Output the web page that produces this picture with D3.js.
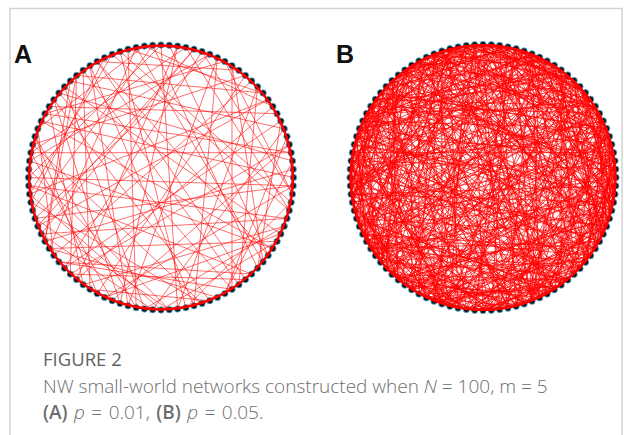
<!DOCTYPE html>
<html>
<head>
<meta charset="utf-8">
<script src="https://cdn.jsdelivr.net/npm/d3@7"></script>
<style>
  html, body { margin: 0; padding: 0; background: #fff; }
  svg { display: block; }
</style>
</head>
<body>
<svg id="fig" width="624" height="435"></svg>
<script>
// Network size and lattice neighbourhood (each node joined to its m nearest neighbours per side)
const nodeCount = 100;
const ringOffsets = [1, 2, 3, 4, 5];

// Panel labels and caption text
const panelLabels = ["A", "B"];
const captionTitle = "FIGURE 2";

// Shortcut edges, flat list of node-index pairs — panel A (p = 0.01)
const shortcutsA = [
  3,47, 7,62, 12,85, 15,33, 18,71, 21,56, 24,90, 27,44, 30,78, 2,39,
  35,66, 38,93, 41,8, 45,72, 48,19, 51,87, 54,26, 57,95, 60,13, 63,36,
  66,81, 69,4, 72,29, 75,52, 78,97, 81,40, 84,16, 87,61, 90,33, 93,68,
  96,22, 99,50, 1,58, 5,83, 9,27, 14,67, 17,42, 20,98, 23,64, 26,88,
  29,11, 32,53, 34,79, 37,6, 40,70, 43,91, 46,14, 49,76, 52,31, 55,99,
  58,37, 61,84, 64,9, 67,45, 70,23, 73,94, 76,55, 79,18, 82,59, 85,35,
  88,7, 91,48, 94,65, 97,30, 0,43, 6,74, 10,52, 16,89, 22,47, 25,77,
  28,59, 31,96, 36,58, 39,84, 42,3, 47,69, 50,25, 53,80, 56,10, 59,92,
  62,20, 65,41, 68,99, 71,34, 74,57, 77,12, 80,46, 83,2, 86,63, 89,28,
  92,75, 95,51, 98,17, 4,63, 11,36, 19,55, 33,86, 44,60, 57,21, 73,38
];

// Shortcut edges — panel B (p = 0.05)
const shortcutsB = [
  0,37, 0,71, 1,24, 1,66, 2,53, 2,88, 3,19, 3,45, 4,77, 4,92, 5,31, 5,60, 6,14, 6,83, 7,49, 7,95, 8,26, 8,70, 9,58, 9,81,
  10,33, 10,64, 11,47, 11,90, 12,29, 12,75, 13,56, 13,98, 14,40, 14,69, 15,22, 15,87, 16,51, 16,79, 17,34, 17,62, 18,93, 18,45, 19,68, 19,8,
  20,41, 20,85, 21,59, 21,3, 22,74, 22,97, 23,48, 23,11, 24,66, 24,90, 25,38, 25,77, 26,52, 26,99, 27,13, 27,71, 28,46, 28,84, 29,61, 29,5,
  30,57, 30,92, 31,15, 31,73, 32,49, 32,88, 33,2, 33,67, 34,80, 34,53, 35,21, 35,96, 36,62, 36,9, 37,84, 37,55, 38,17, 38,70, 39,93, 39,58,
  40,12, 40,76, 41,63, 41,97, 42,28, 42,85, 43,6, 43,70, 44,91, 44,19, 45,58, 45,82, 46,33, 46,99, 47,14, 47,75, 48,61, 48,89, 49,24, 49,80,
  50,7, 50,72, 51,36, 51,94, 52,18, 52,83, 53,67, 53,4, 54,29, 54,88, 55,10, 55,76, 56,42, 56,97, 57,23, 57,86, 58,1, 58,71, 59,34, 59,92,
  60,15, 60,81, 61,44, 61,98, 62,27, 62,89, 63,9, 63,74, 64,37, 64,95, 65,20, 65,83, 66,48, 66,2, 67,31, 67,90, 68,12, 68,79, 69,53, 69,97,
  70,26, 70,88, 71,45, 71,6, 72,33, 72,94, 73,17, 73,56, 74,3, 74,85, 75,41, 75,99, 76,22, 76,63, 77,8, 77,50, 78,35, 78,92, 79,14, 79,60,
  80,28, 80,97, 81,47, 81,3, 82,19, 82,64, 83,39, 83,7, 84,55, 84,11, 85,30, 85,68, 86,4, 86,49, 87,24, 87,61, 88,16, 88,43, 89,36, 89,73,
  90,2, 90,57, 91,25, 91,66, 92,13, 92,48, 93,31, 93,70, 94,9, 94,52, 95,27, 95,64, 96,18, 96,44, 97,35, 97,6, 98,21, 98,59, 99,40, 99,12,
  0,55, 1,83, 2,40, 3,62, 4,28, 5,95, 6,51, 7,33, 8,87, 9,42, 10,79, 11,24, 12,58, 13,91, 14,36, 15,67, 16,4, 17,89, 18,57, 19,30,
  20,63, 21,94, 22,8, 23,79, 24,43, 25,12, 26,69, 27,95, 28,1, 29,82, 30,44, 31,58, 32,10, 33,85, 34,97, 35,62, 36,78, 37,3, 38,51, 39,22,
  40,88, 41,15, 42,60, 43,97, 44,2, 45,71, 46,18, 47,86, 48,30, 49,64, 50,95, 51,19, 52,66, 53,38, 54,9, 55,84, 56,27, 57,73, 58,45, 59,14,
  60,99, 61,29, 62,5, 63,50, 64,86, 65,37, 66,11, 67,84, 68,41, 69,2, 70,55, 71,18, 72,62, 73,95, 74,39, 75,7, 76,90, 77,31, 78,54, 79,85,
  80,10, 81,65, 82,40, 83,22, 84,96, 85,1, 86,58, 87,34, 88,75, 89,5, 90,27, 91,49, 92,71, 93,16, 94,38, 95,80, 96,59, 97,23, 98,46, 99,82,
  0,20, 1,48, 2,74, 3,99, 4,56, 5,13, 6,39, 7,68, 8,94, 9,31, 10,50, 11,76, 12,97, 13,44, 14,63, 15,89, 16,28, 17,52, 18,81, 19,43,
  20,7, 21,36, 22,52, 23,88, 24,15, 25,54, 26,81, 27,37, 28,63, 29,96, 30,70, 31,4, 32,61, 33,93, 34,18, 35,49, 36,87, 37,26, 38,64, 39,6,
  40,53, 41,82, 42,14, 43,33, 44,68, 45,96, 46,72, 47,3, 48,80, 49,17, 50,39, 51,75, 52,99, 53,28, 54,61, 55,41, 56,8, 57,91, 58,35, 59,77,
  60,32, 61,6, 62,44, 63,86, 64,21, 65,52, 66,94, 67,17, 68,47, 69,85, 70,9, 71,35, 72,81, 73,43, 74,62, 75,26, 76,1, 77,58, 78,19, 79,97,
  80,52, 81,25, 82,6, 83,57, 84,33, 85,15, 86,69, 87,44, 88,2, 89,58, 90,38, 91,8, 92,30, 93,55, 94,23, 95,45, 96,71, 97,11, 98,33, 99,64,
  0,88, 1,9, 2,29, 3,77, 4,43, 5,70, 6,24, 7,58, 8,41, 9,73, 10,21, 11,59, 12,44, 13,81, 14,27, 15,51, 16,93, 17,77, 18,32, 19,56,
  20,96, 21,72, 22,39, 23,61, 24,82, 25,4, 26,44, 27,83, 28,56, 29,72, 30,13, 31,88, 32,76, 33,51, 34,7, 35,84, 36,53, 37,68, 38,1, 39,79,
  40,9, 41,70, 42,93, 43,19, 44,80, 45,27, 46,61, 47,92, 48,5, 49,34, 50,86, 51,12, 52,41, 53,90, 54,76, 55,23, 56,65, 57,3, 58,84, 59,48,
  60,6, 61,36, 62,79, 63,17, 64,48, 65,96, 66,29, 67,5, 68,90, 69,25, 70,42, 71,98, 72,14, 73,66, 74,21, 75,87, 76,49, 77,96, 78,26, 79,41,
  80,63, 81,14, 82,51, 83,30, 84,7, 85,45, 86,25, 87,92, 88,59, 89,20, 90,46, 91,1, 92,61, 93,8, 94,73, 95,34, 96,11, 97,52, 98,69, 99,27,
  0,64, 1,39, 2,17, 3,91, 4,66, 5,41, 6,89, 7,24, 8,55, 9,99, 10,44, 11,68, 12,34, 13,70, 14,91, 15,43, 16,65, 17,98, 18,60, 19,87,
  20,52, 21,81, 22,63, 23,35, 24,57, 25,93, 26,13, 27,61, 28,90, 29,45, 30,81, 31,69, 32,94, 33,24, 34,66, 35,9, 36,99, 37,77, 38,84, 39,47
];

const svg = d3.select("#fig");

// Card frame
svg.append("rect")
  .attr("x", 10).attr("y", 8.5)
  .attr("width", 612).attr("height", 440)
  .attr("fill", "none")
  .attr("stroke", "#d2d2d2")
  .attr("stroke-width", 1.5);

// Node angle scale: index -> angle around the circle
const angle = d3.scaleLinear().domain([0, nodeCount]).range([0, 2 * Math.PI]);

function buildEdges(flat) {
  const edges = [];
  // regular ring lattice
  for (let i = 0; i < nodeCount; i++) {
    ringOffsets.forEach(k => edges.push([i, (i + k) % nodeCount]));
  }
  // added shortcuts
  for (let j = 0; j < flat.length; j += 2) edges.push([flat[j], flat[j + 1]]);
  return edges;
}

const panels = [
  { label: panelLabels[0], cx: 161, cy: 177.5, r: 132.5, shortcuts: shortcutsA, lx: 14, ly: 63, op: 0.6 },
  { label: panelLabels[1], cx: 483, cy: 177.5, r: 133, shortcuts: shortcutsB, lx: 336, ly: 63, op: 0.75 }
];

panels.forEach(p => {
  const g = svg.append("g");
  const nodes = d3.range(nodeCount).map(i => ({
    i,
    x: p.cx + p.r * Math.cos(angle(i)),
    y: p.cy - p.r * Math.sin(angle(i))
  }));
  const edges = buildEdges(p.shortcuts);

  // nodes
  g.append("g").selectAll("circle")
    .data(nodes)
    .join("circle")
    .attr("cx", d => d.x).attr("cy", d => d.y)
    .attr("r", 3.2)
    .attr("fill", "#0d1a22")
    .attr("stroke", "#5ab4d6")
    .attr("stroke-width", 0.8);

  // edges
  g.append("g").selectAll("line")
    .data(edges)
    .join("line")
    .attr("x1", d => nodes[d[0]].x).attr("y1", d => nodes[d[0]].y)
    .attr("x2", d => nodes[d[1]].x).attr("y2", d => nodes[d[1]].y)
    .attr("stroke", "#ff0000")
    .attr("stroke-opacity", p.op)
    .attr("stroke-width", 0.95);

  // panel label
  svg.append("text")
    .attr("x", p.lx).attr("y", p.ly)
    .attr("font-family", "Liberation Sans, Arial, sans-serif")
    .attr("font-weight", "bold")
    .attr("font-size", 25)
    .attr("fill", "#111")
    .text(p.label);
});

// Caption
const cap = svg.append("g")
  .attr("font-family", "'Open Sans', 'Noto Sans', sans-serif")
  .attr("fill", "#6e6e6e");

cap.append("text")
  .attr("x", 43).attr("y", 366)
  .attr("font-size", 18.5)
  .attr("font-weight", 500)
  .attr("fill", "#626262")
  .text(captionTitle);

const line2 = cap.append("text")
  .attr("x", 43).attr("y", 393)
  .attr("font-size", 19)
  .attr("font-weight", 300);
line2.append("tspan").text("NW small-world networks constructed when ");
line2.append("tspan").attr("font-style", "italic").text("N");
line2.append("tspan").text(" = 100, m = 5");

const line3 = cap.append("text")
  .attr("x", 43).attr("y", 419)
  .attr("font-size", 19)
  .attr("font-weight", 300)
  .attr("word-spacing", 1.5);
line3.append("tspan").attr("font-weight", 600).text("(A)");
line3.append("tspan").text(" ");
line3.append("tspan").attr("font-style", "italic").text("p");
line3.append("tspan").text(" = 0.01, ");
line3.append("tspan").attr("font-weight", 600).text("(B)");
line3.append("tspan").text(" ");
line3.append("tspan").attr("font-style", "italic").text("p");
line3.append("tspan").text(" = 0.05.");
</script>
</body>
</html>
